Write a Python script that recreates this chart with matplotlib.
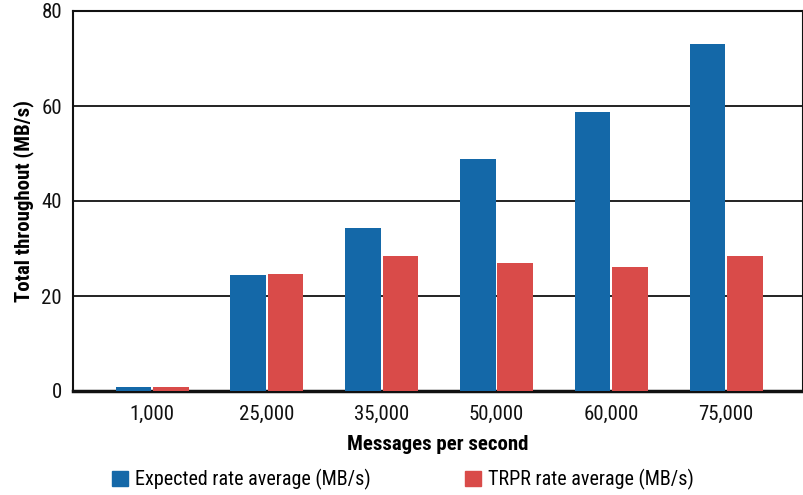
import matplotlib
matplotlib.use("Agg")
import matplotlib.pyplot as plt
import matplotlib.font_manager as fm
from matplotlib.patches import Patch
import numpy as np

categories = ["1,000", "25,000", "35,000", "50,000", "60,000", "75,000"]
expected = [0.8, 24.4, 34.3, 48.8, 58.7, 73.0]
trpr = [0.8, 24.6, 28.4, 26.9, 26.1, 28.4]
yticks = [0, 20, 40, 60, 80]

names = {f.name for f in fm.fontManager.ttflist}
family = "Liberation Sans"
for cand in ["Roboto Condensed", "Nimbus Sans Narrow", "Liberation Sans Narrow",
             "Archivo Narrow", "Barlow Semi Condensed"]:
    if cand in names:
        family = cand
        break
plt.rcParams["font.family"] = [family, "DejaVu Sans"]

blue = "#1468A8"
red = "#D94B49"

fig = plt.figure(figsize=(8.04, 4.95), dpi=100)
ax = fig.add_axes([73 / 804, 1 - 391 / 495, 730 / 804, 380 / 495])

x = np.arange(len(categories))
w = 0.31
ax.bar(x - w / 2 - 0.008, expected, w, color=blue, edgecolor="none", zorder=3)
ax.bar(x + w / 2 + 0.008, trpr, w, color=red, edgecolor="none", zorder=3)

ax.set_xlim(-0.69, 5.67)
ax.set_ylim(0, 80)
ax.set_yticks(yticks)
ax.set_xticks(x)
ax.set_xticklabels(categories)
ax.tick_params(axis="both", length=0, labelsize=15, colors="#111111")
ax.tick_params(axis="y", pad=8)
ax.tick_params(axis="x", pad=10)
ax.yaxis.grid(True, color="#111111", linewidth=1.3, zorder=1)
ax.set_axisbelow(True)
for side in ["left", "top", "right"]:
    ax.spines[side].set_linewidth(1.5)
    ax.spines[side].set_color("#111111")
ax.spines["bottom"].set_linewidth(2.5)
ax.spines["bottom"].set_color("#111111")

ax.set_ylabel("Total throughout (MB/s)", fontsize=15, fontweight="bold", labelpad=5)
ax.set_xlabel("Messages per second", fontsize=15, fontweight="bold", labelpad=8)

handles = [Patch(color=blue, label="Expected rate average (MB/s)"),
           Patch(color=red, label="TRPR rate average (MB/s)")]
fig.legend(handles=handles, loc="lower left", bbox_to_anchor=(112 / 804, 5 / 495), ncol=2,
           frameon=False, fontsize=14.5, handlelength=0.8, handleheight=0.8,
           handletextpad=0.35, columnspacing=4.65, borderpad=0, borderaxespad=0)

fig.savefig("out.png", dpi=100)
